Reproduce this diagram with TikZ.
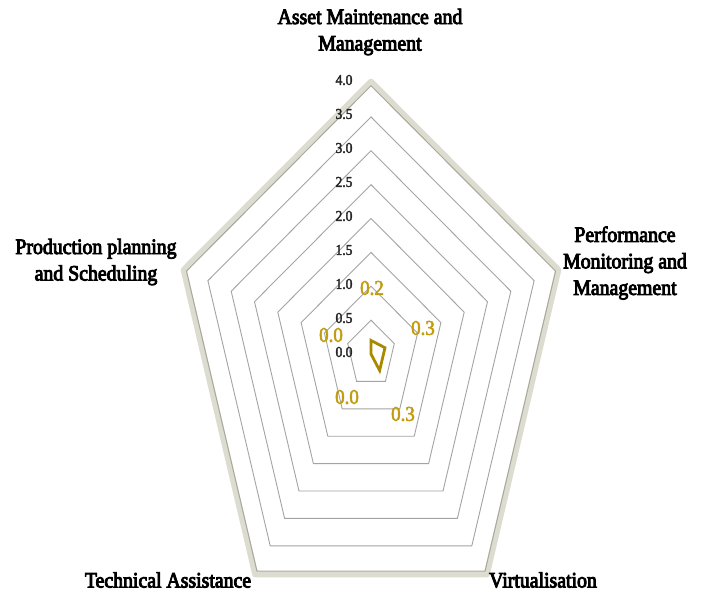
\documentclass[tikz,border=0pt]{standalone}
\usepackage{fontspec}
\setmainfont[FakeStretch=0.9]{Liberation Serif}
\newfontfamily\catfont[FakeStretch=0.9,FakeBold=4]{Liberation Serif}
\newfontfamily\valfont[FakeStretch=0.9,FakeBold=2.5]{Liberation Serif}
\definecolor{ringgrey}{HTML}{A4A4A4}
\definecolor{rimlight}{HTML}{DCDCD0}
\definecolor{rimdark}{HTML}{A8A89C}
\definecolor{seriesgold}{HTML}{A88A00}
\definecolor{valuegold}{HTML}{C29C10}
\begin{document}
\begin{tikzpicture}[x=1pt,y=-1pt,
  ring/.style={draw=ringgrey,line width=0.9pt,line join=miter},
  rimband/.style={draw=rimlight,line width=6pt,line join=round},
  rimline/.style={draw=rimdark,line width=1pt,line join=round},
  series/.style={draw=seriesgold,line width=2.8pt,line join=miter},
  axislab/.style={font=\valfont\fontsize{15}{15}\selectfont,text=black!85,inner sep=0pt},
  catlab/.style={font=\catfont\fontsize{22}{26.5}\selectfont,align=center,inner sep=0pt},
  vallab/.style={font=\valfont\fontsize{21}{21}\selectfont,text=valuegold,inner sep=0pt}]
\useasboundingbox (0,0) rectangle (703,595);
\fill[white] (0,0) rectangle (703,595);

% radar grid, five axes, 0.0 .. 4.0 in steps of 0.5
\begin{scope}[shift={(371,354)},x=196pt,y=271pt]
  % outer rim with a soft raised edge
  \draw[rimband] (90:1.005) -- (18:1.005) -- (-54:1.005) -- (-126:1.005) -- (162:1.005) -- cycle;
  \draw[rimline] (90:0.99) -- (18:0.99) -- (-54:0.99) -- (-126:0.99) -- (162:0.99) -- cycle;
  \foreach \k in {1,...,7}{
    \pgfmathsetmacro\f{\k/8}
    \draw[ring] (90:\f) -- (18:\f) -- (-54:\f) -- (-126:\f) -- (162:\f) -- cycle;
  }
  % series polygon (values / 4.0)
  \coordinate (vA) at (90:0.05);
  \coordinate (vP) at (18:0.075);
  \coordinate (vV) at (-54:0.075);
  \coordinate (vT) at (-126:0);
  \coordinate (vS) at (162:0);
  \draw[series] (vA) -- (vP) -- (vV) -- (vT) -- (vS) -- cycle;
\end{scope}

% axis scale
\foreach \v/\y [count=\i] in {0.0/352,0.5/318,1.0/284,1.5/250,2.0/216,2.5/182,3.0/148,3.5/114,4.0/80}{
  \node[axislab] (tick\i) at (344,\y) {\v};
}

% category labels
\node[catlab] (catA) at (370,32) {Asset Maintenance and\\Management};
\node[catlab] (catP) at (625,263) {Performance\\Monitoring and\\Management};
\node[catlab] (catV) at (543,580) {Virtualisation};
\node[catlab] (catT) at (168,580) {Technical Assistance};
\node[catlab] (catS) at (96,262) {Production planning\\and Scheduling};

% data values
\node[vallab] (valA) at (372,288) {0.2};
\node[vallab] (valP) at (423,328) {0.3};
\node[vallab] (valV) at (403,414) {0.3};
\node[vallab] (valT) at (347,397) {0.0};
\node[vallab] (valS) at (331,335) {0.0};
\end{tikzpicture}
\end{document}
